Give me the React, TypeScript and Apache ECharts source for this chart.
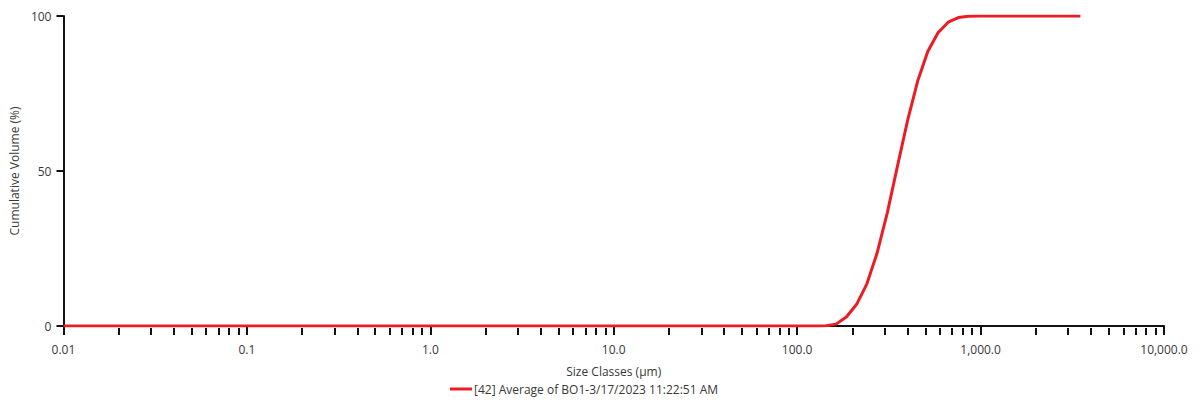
import React, { useEffect, useRef } from "react";
import * as echarts from "echarts";

const sizeClasses = [
  0.01, 0.0114, 0.0129, 0.0147, 0.0167, 0.0189, 0.0215, 0.0244, 0.0278, 0.0315,
  0.0358, 0.0407, 0.0463, 0.0526, 0.0597, 0.0679, 0.0771, 0.0876, 0.0995, 0.113,
  0.128, 0.146, 0.166, 0.188, 0.214, 0.243, 0.276, 0.314, 0.357, 0.405,
  0.46, 0.523, 0.594, 0.675, 0.767, 0.872, 0.991, 1.13, 1.28, 1.45,
  1.65, 1.88, 2.13, 2.42, 2.75, 3.12, 3.55, 4.03, 4.58, 5.21,
  5.92, 6.72, 7.64, 8.68, 9.86, 11.2, 12.7, 14.5, 16.4, 18.7,
  21.2, 24.1, 27.4, 31.1, 35.3, 40.1, 45.6, 51.8, 58.9, 66.9,
  76.0, 86.4, 98.1, 111, 127, 144, 163, 186, 211, 240,
  272, 310, 352, 400, 454, 516, 586, 666, 756, 859,
  976, 1110, 1260, 1430, 1630, 1850, 2100, 2390, 2710, 3080, 3500,
];

const cumulativeVolume = [
  0, 0, 0, 0, 0, 0, 0, 0, 0, 0,
  0, 0, 0, 0, 0, 0, 0, 0, 0, 0,
  0, 0, 0, 0, 0, 0, 0, 0, 0, 0,
  0, 0, 0, 0, 0, 0, 0, 0, 0, 0,
  0, 0, 0, 0, 0, 0, 0, 0, 0, 0,
  0, 0, 0, 0, 0, 0, 0, 0, 0, 0,
  0, 0, 0, 0, 0, 0, 0, 0, 0, 0,
  0, 0, 0, 0, 0, 0.05, 0.6, 3.0, 7.0, 13.6,
  23.3, 36.5, 51.5, 66.3, 79.0, 88.6, 94.6, 98.0, 99.5, 99.9,
  100, 100, 100, 100, 100, 100, 100, 100, 100, 100, 100,
];

const majorTicks = [0.01, 0.1, 1, 10, 100, 1000, 10000];
const minorTicks = [
  0.02, 0.03, 0.04, 0.05, 0.06, 0.07, 0.08, 0.09,
  0.2, 0.3, 0.4, 0.5, 0.6, 0.7, 0.8, 0.9,
  2, 3, 4, 5, 6, 7, 8, 9,
  20, 30, 40, 50, 60, 70, 80, 90,
  200, 300, 400, 500, 600, 700, 800, 900,
  2000, 3000, 4000, 5000, 6000, 7000, 8000, 9000,
];

const seriesName = "[42] Average of BO1-3/17/2023 11:22:51 AM";
const xAxisTitle = "Size Classes (µm)";
const yAxisTitle = "Cumulative Volume (%)";

const FONT = "'Open Sans', 'Noto Sans', sans-serif";
const TEXT = "#383838";
const RED = "#ec1c24";

function fmtX(v: number): string {
  const r = +Number(v).toPrecision(6);
  if (r < 1) return String(r);
  return r.toLocaleString("en-US", { minimumFractionDigits: 1, maximumFractionDigits: 1 });
}

export default function App() {
  const ref = useRef<HTMLDivElement>(null);
  useEffect(() => {
    document.body.style.margin = "0";
    if (!ref.current) return;
    const chart = echarts.init(ref.current, null, { renderer: "svg" });
    const data = sizeClasses.map((s, i) => [s, cumulativeVolume[i]]);
    chart.setOption({
      animation: false,
      backgroundColor: "#ffffff",
      grid: { left: 62, right: 36, top: 16, bottom: 77, containLabel: false },
      legend: {
        left: 450,
        top: 383,
        padding: 0,
        icon: "rect",
        itemWidth: 22,
        itemHeight: 3,
        itemGap: 5,
        textStyle: { color: TEXT, fontFamily: FONT, fontSize: 12, padding: [0, 0, 0, -3] },
        data: [seriesName],
      },
      xAxis: [
        {
          type: "log",
          logBase: 10,
          min: 0.01,
          max: 10000,
          offset: 2,
          name: xAxisTitle,
          nameLocation: "middle",
          nameGap: 37,
          nameTextStyle: { color: TEXT, fontFamily: FONT, fontSize: 12 },
          axisLine: { show: true, lineStyle: { color: "#111", width: 2 } },
          axisTick: {
            show: true,
            length: 9,
            customValues: majorTicks,
            lineStyle: { color: "#111", width: 2 },
          },
          axisLabel: {
            show: true,
            customValues: majorTicks,
            margin: 15,
            color: TEXT,
            fontFamily: FONT,
            fontSize: 12,
            formatter: (v: number) => fmtX(v),
          },
          splitLine: { show: false },
          minorTick: { show: false },
        },
        {
          type: "log",
          logBase: 10,
          min: 0.01,
          max: 10000,
          offset: 2,
          position: "bottom",
          axisLine: { show: false },
          axisTick: {
            show: true,
            length: 7,
            customValues: minorTicks,
            lineStyle: { color: "#111", width: 2 },
          },
          axisLabel: { show: false },
          splitLine: { show: false },
        },
      ],
      yAxis: {
        type: "value",
        min: 0,
        max: 100,
        interval: 50,
        name: yAxisTitle,
        nameLocation: "middle",
        nameGap: 39,
        nameTextStyle: { color: TEXT, fontFamily: FONT, fontSize: 12 },
        axisLine: { show: true, lineStyle: { color: "#111", width: 2 } },
        axisTick: { show: true, length: 7, lineStyle: { color: "#111", width: 2 } },
        axisLabel: { margin: 12, color: TEXT, fontFamily: FONT, fontSize: 12 },
        splitLine: { show: false },
      },
      series: [
        {
          name: seriesName,
          type: "line",
          xAxisIndex: 0,
          data,
          showSymbol: false,
          symbol: "none",
          smooth: false,
          lineStyle: { color: RED, width: 3 },
          itemStyle: { color: RED },
        },
      ],
    });
    return () => chart.dispose();
  }, []);
  return (
    <div
      ref={ref}
      style={{ position: "absolute", left: 0, top: 0, width: 1200, height: 403 }}
    />
  );
}
